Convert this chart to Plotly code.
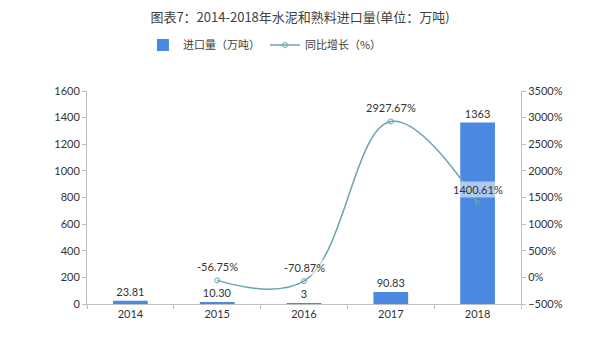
import plotly.graph_objects as go

years = ["2014", "2015", "2016", "2017", "2018"]
imports = [23.81, 10.30, 3, 90.83, 1363]
import_labels = ["23.81", "10.30", "3", "90.83", "1363"]
growth_years = ["2015", "2016", "2017", "2018"]
growth = [-56.75, -70.87, 2927.67, 1400.61]

FONT = "Lato, 'Noto Sans CJK SC', sans-serif"
CJK = "'Noto Sans CJK SC', sans-serif"
BAR = "#4a88e2"
LINE = "#6aa3b4"

fig = go.Figure()
fig.add_trace(go.Bar(
    x=years, y=imports, name="进口量（万吨）",
    marker=dict(color=BAR, line=dict(width=0)),
    width=0.4,
    text=import_labels, textposition="outside",
    textfont=dict(size=11, color="#333333", family=FONT),
    cliponaxis=False,
))
fig.add_trace(go.Scatter(
    x=growth_years, y=growth, name="同比增长（%）", yaxis="y2",
    mode="lines+markers",
    line=dict(color=LINE, width=1.5, shape="spline", smoothing=1.1),
    marker=dict(symbol="circle-open", size=5, color=LINE),
    cliponaxis=False,
))

for x, v in zip(growth_years, growth):
    fig.add_annotation(
        x=years.index(x), y=v, xref="x", yref="y2",
        text=f"{v:.2f}%", showarrow=False,
        yanchor="bottom", yshift=5,
        font=dict(size=11, color="#333333", family=FONT),
        bgcolor="rgba(255,255,255,0.55)", borderpad=1,
    )

fig.update_layout(
    width=600, height=341,
    margin=dict(l=87, r=79, t=91, b=37),
    paper_bgcolor="white", plot_bgcolor="white",
    title=dict(text="图表7：2014-2018年水泥和熟料进口量(单位：万吨)",
               x=0.5, xanchor="center", y=1 - 17 / 341, yanchor="middle",
               font=dict(size=13, color="#404040", family=CJK)),
    legend=dict(orientation="h", x=0.41, xanchor="center",
                y=(304 - 45) / 213, yanchor="middle",
                font=dict(size=11, color="#404040", family=CJK),
                itemwidth=30, bgcolor="rgba(0,0,0,0)"),
    showlegend=True,
    xaxis=dict(type="category", categoryorder="array", categoryarray=years,
               range=[-0.5, len(years) - 0.5],
               showline=True, linecolor="#bfbfbf",
               ticks="outside", tickson="boundaries", ticklen=4,
               tickcolor="#bfbfbf", showgrid=False,
               tickfont=dict(size=11, color="#333333", family=FONT)),
    yaxis=dict(range=[0, 1600], dtick=200, showline=True, linecolor="#bfbfbf",
               ticks="outside", ticklen=4, tickcolor="#bfbfbf", showgrid=False,
               zeroline=False,
               tickfont=dict(size=11, color="#333333", family=FONT)),
    yaxis2=dict(range=[-500, 3500], dtick=500, overlaying="y", side="right",
                showline=True, linecolor="#bfbfbf", ticks="outside", ticklen=4,
                tickcolor="#bfbfbf", showgrid=False, zeroline=False,
                ticksuffix="%",
                tickfont=dict(size=11, color="#333333", family=FONT)),
)

fig.write_html("out.html")
